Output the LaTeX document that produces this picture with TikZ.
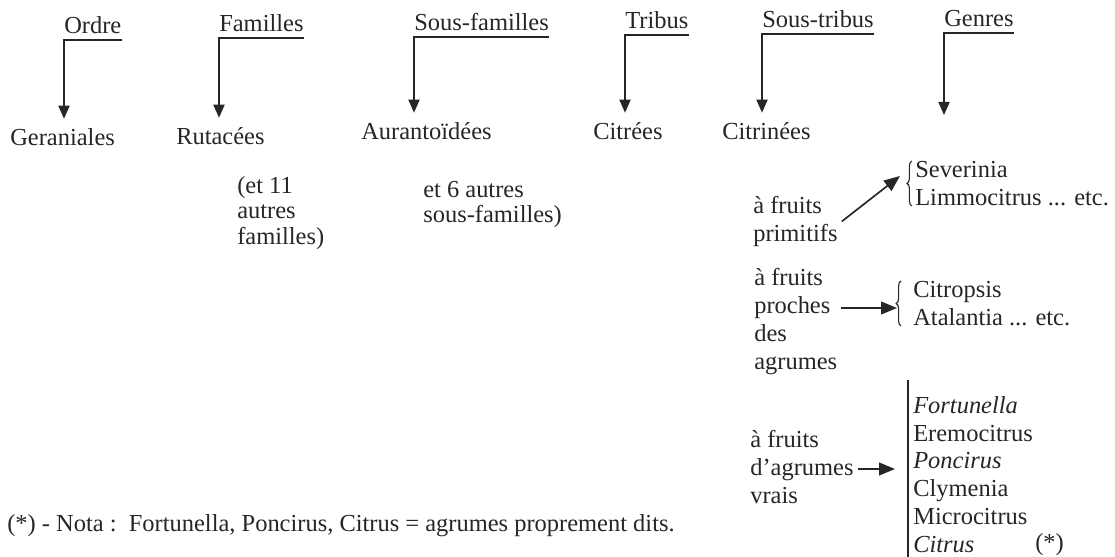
\documentclass[tikz,border=0pt]{standalone}
\usepackage{fontspec}
\setmainfont{Liberation Serif}
\usetikzlibrary{arrows.meta,decorations.pathreplacing}

\begin{document}
\begin{tikzpicture}[
  font=\fontsize{17.4}{18.1}\selectfont,
  every node/.style={text=black!85},
  titre/.style={anchor=base west, inner xsep=0pt, inner ysep=0.15cm, text depth=0pt},
  taxon/.style={anchor=base west, inner xsep=0pt, inner ysep=0.25cm},
  remarque/.style={anchor=north west, inner sep=0pt, align=left},
  groupe/.style={anchor=north west, inner xsep=0.1cm, inner ysep=0pt, align=left,
                 font=\fontsize{17.4}{19.8}\selectfont},
  fleche/.style={black!85, line width=1.2pt, -{Triangle[length=0.33cm,width=0.28cm]}},
  renvoi/.style={black!85, line width=1.2pt, -{Triangle[length=0.4cm,width=0.32cm]}},
  accolade/.style={black!85, line width=0.8pt, decorate, decoration={brace,amplitude=0.12cm}},
]

\useasboundingbox (0,0) rectangle (27.875,-13.925);

\node[titre] (ordre)    at (1.6, -0.85)    {Ordre};
\node[titre] (familles) at (5.475, -0.8)   {Familles};
\node[titre] (sousfam)  at (10.35, -0.775) {Sous-familles};
\node[titre] (tribus)   at (15.625, -0.725) {Tribus};
\node[titre] (soustrib) at (19.05, -0.69)  {Sous-tribus};
\node[titre] (genres)   at (23.6, -0.675)  {Genres};

\node[taxon] (geran)   at (0.25, -3.65)   {Geraniales};
\node[taxon] (rutac)   at (4.4, -3.625)   {Rutacées};
\node[taxon] (auran)   at (9.025, -3.5)   {Aurantoïdées};
\node[taxon] (citrees) at (14.825, -3.5)  {Citrées};
\node[taxon] (citrin)  at (18.05, -3.5)   {Citrinées};
\coordinate (genbout) at (23.6, -2.875);

\draw[fleche] (ordre.south east) -- (ordre.south west) -- (ordre.south west |- geran.north);
\draw[fleche] (familles.south east) -- (familles.south west) -- (familles.south west |- rutac.north);
\draw[fleche] (sousfam.south east) -- (sousfam.south west) -- (sousfam.south west |- auran.north);
\draw[fleche] (tribus.south east) -- (tribus.south west) -- (tribus.south west |- citrees.north);
\draw[fleche] (soustrib.south east) -- (soustrib.south west) -- (soustrib.south west |- citrin.north);
\draw[fleche] (genres.south east) -- (genres.south west) -- (genbout);

\node[remarque] (note11) at (5.925, -4.4)  {(et 11\\autres\\familles)};
\node[remarque] (note6)  at (10.575, -4.525) {et 6 autres\\sous-familles)};

\node[groupe] (prim)  at (18.725, -4.9)  {à fruits\\primitifs};
\node[groupe] (prox)  at (18.75, -6.7)   {à fruits\\proches\\des\\agrumes};
\node[groupe] (vrais) at (18.65, -10.75) {à fruits\\d’agrumes\\vrais};

\node[groupe, inner xsep=0pt] (grp1) at (22.875, -4.025) {Severinia\\Limmocitrus ... etc.};
\node[groupe, inner xsep=0pt] (grp2) at (22.825, -7.025) {Citropsis\\Atalantia ... etc.};
\node[groupe, inner xsep=0pt] (grp3) at (22.825, -9.9)
  {\textit{Fortunella}\\Eremocitrus\\\textit{Poncirus}\\Clymenia\\Microcitrus\\\textit{Citrus}};
\node[anchor=base west, inner sep=0pt] (etoile) at (25.875, -13.775) {(*)};

\draw[accolade] ([xshift=-0.08cm]grp1.south west) -- ([xshift=-0.08cm]grp1.north west);
\draw[accolade] ([xshift=-0.3cm]grp2.south west) -- ([xshift=-0.3cm]grp2.north west);
\draw[black!85, line width=0.8pt] (22.7, -9.5) -- (22.7, -13.95);

\coordinate (b1) at (22.5, -4.4);
\coordinate (b2) at (22.425, -7.7);
\coordinate (b3) at (22.375, -11.725);
\draw[renvoi] (prim.east) -- (b1);
\draw[renvoi] (prox.east |- b2) -- (b2);
\draw[renvoi] (vrais.east |- b3) -- (b3);

\node[anchor=base west, inner sep=0pt] (nota) at (0.175, -13.3)
  {(*) - Nota :\ \ Fortunella, Poncirus, Citrus = agrumes proprement dits.};

\end{tikzpicture}
\end{document}
